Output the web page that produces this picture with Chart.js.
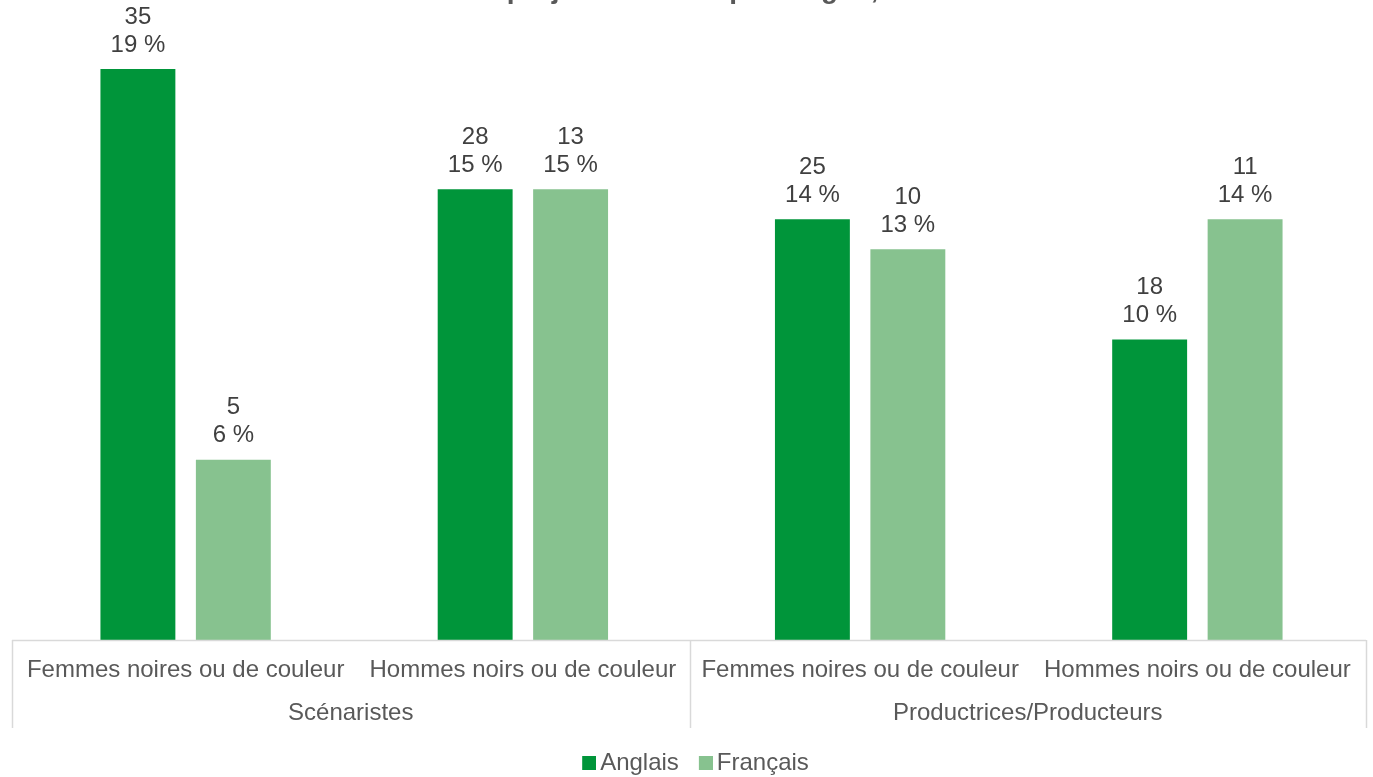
<!DOCTYPE html>
<html lang="fr">
<head>
<meta charset="utf-8">
<script src="https://cdn.jsdelivr.net/npm/chart.js@4.4.1/dist/chart.umd.min.js"></script>
<style>
  html, body { margin: 0; padding: 0; background: #fff; overflow: hidden; }
  #wrap { position: relative; width: 1373px; height: 777px; }
  #title { position: absolute; left: 0; width: 1373px; top: -25px; text-align: center;
           font: bold 28px "Liberation Sans", Arial, sans-serif; line-height: 28px; color: #595959; white-space: nowrap; }
  canvas { position: absolute; left: 0; top: 0; }
</style>
</head>
<body>
<div id="wrap">
  <canvas id="c" width="1373" height="777"></canvas>
  <div id="title">Nombre de projets financés par langue, 2019-2020</div>
</div>
<script>
// ---- Data ----
const categories = ['Femmes noires ou de couleur', 'Hommes noirs ou de couleur',
                    'Femmes noires ou de couleur', 'Hommes noirs ou de couleur'];
const groups = ['Scénaristes', 'Productrices/Producteurs'];
const groupSpans = [2, 2];
const seriesNames = ['Anglais', 'Français'];
const anglaisPct = [19, 15, 14, 10];
const francaisPct = [6, 15, 13, 14];
const anglaisCount = [35, 28, 25, 18];
const francaisCount = [5, 13, 10, 11];

const FONT = '"Liberation Sans", Arial, sans-serif';
const AXIS_COLOR = '#D9D9D9';
const TEXT_COLOR = '#595959';
const LABEL_COLOR = '#404040';
const COLORS = ['#00953A', '#87C28F'];

// legend marker: square drawn at the right side of a wider image so the gap to the text is small
function legendMarker(color) {
  const c = document.createElement('canvas');
  c.width = 30; c.height = 14;
  const g = c.getContext('2d');
  g.fillStyle = color;
  g.fillRect(16, 0, 14, 14);
  return c;
}

const dataLabelPlugin = {
  id: 'dataLabels',
  afterDatasetsDraw(chart) {
    const ctx = chart.ctx;
    ctx.save();
    ctx.font = '24px ' + FONT;
    ctx.fillStyle = LABEL_COLOR;
    ctx.textAlign = 'center';
    ctx.textBaseline = 'middle';
    chart.data.datasets.forEach((ds, di) => {
      const meta = chart.getDatasetMeta(di);
      meta.data.forEach((bar, i) => {
        ctx.fillText(String(ds.counts[i]), bar.x, bar.y - 52);
        ctx.fillText(ds.data[i] + ' %', bar.x, bar.y - 24);
      });
    });
    ctx.restore();
  }
};

const multiAxisPlugin = {
  id: 'multiAxis',
  afterDraw(chart) {
    const ctx = chart.ctx;
    const xs = chart.scales.x;
    const area = chart.chartArea;
    const bottom = area.bottom + 88;
    const leftEdge = area.left - 5;
    ctx.save();
    ctx.strokeStyle = AXIS_COLOR;
    ctx.lineWidth = 1.5;
    ctx.beginPath();
    ctx.moveTo(leftEdge, area.bottom + 0.5);
    ctx.lineTo(area.right, area.bottom + 0.5);
    ctx.stroke();
    let idx = 0;
    const bounds = [leftEdge];
    groupSpans.forEach(span => {
      idx += span;
      if (idx < categories.length) {
        bounds.push((xs.getPixelForValue(idx - 1) + xs.getPixelForValue(idx)) / 2 - 2);
      } else {
        bounds.push(area.right);
      }
    });
    bounds.forEach(b => {
      ctx.beginPath();
      ctx.moveTo(Math.round(b) + 0.5, area.bottom);
      ctx.lineTo(Math.round(b) + 0.5, bottom);
      ctx.stroke();
    });
    ctx.font = '24px ' + FONT;
    ctx.fillStyle = TEXT_COLOR;
    ctx.textAlign = 'center';
    ctx.textBaseline = 'middle';
    groups.forEach((g, gi) => {
      ctx.fillText(g, (bounds[gi] + bounds[gi + 1]) / 2, area.bottom + 73);
    });
    ctx.restore();
  }
};

new Chart(document.getElementById('c'), {
  type: 'bar',
  data: {
    labels: categories,
    datasets: [
      { label: seriesNames[0], data: anglaisPct, counts: anglaisCount, backgroundColor: COLORS[0], pointStyle: legendMarker(COLORS[0]) },
      { label: seriesNames[1], data: francaisPct, counts: francaisCount, backgroundColor: COLORS[1], pointStyle: legendMarker(COLORS[1]) }
    ]
  },
  options: {
    responsive: false,
    animation: false,
    layout: { padding: { top: 39, left: 17, right: 7, bottom: -8 } },
    datasets: { bar: { categoryPercentage: 0.566, barPercentage: 0.785 } },
    plugins: {
      title: { display: false },
      tooltip: { enabled: false },
      legend: {
        position: 'bottom',
        labels: {
          font: { size: 24, family: FONT },
          color: TEXT_COLOR,
          usePointStyle: true,
          pointStyleWidth: 14,
          boxWidth: 14, boxHeight: 14,
          padding: 12
        }
      }
    },
    scales: {
      x: {
        grid: { display: false, drawTicks: false },
        border: { display: false },
        ticks: { font: { size: 24, family: FONT }, color: TEXT_COLOR, padding: 16, maxRotation: 0, autoSkip: false },
        afterFit(scale) { scale.height = 99; }
      },
      y: {
        display: false,
        min: 0,
        max: 20
      }
    }
  },
  plugins: [dataLabelPlugin, multiAxisPlugin]
});
</script>
</body>
</html>
